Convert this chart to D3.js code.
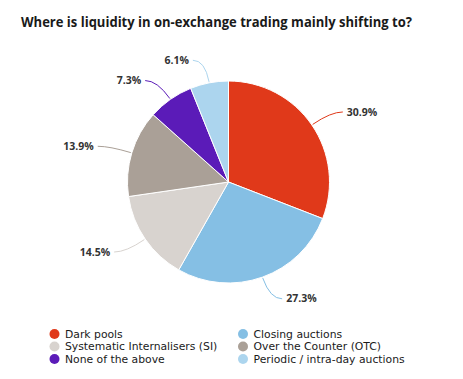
<!DOCTYPE html>
<html><head><meta charset="utf-8">
<script src="https://cdn.jsdelivr.net/npm/d3@7"></script>
<style>body{margin:0;background:#fff}</style>
</head><body>
<script>
const categories = ["Dark pools","Closing auctions","Systematic Internalisers (SI)","Over the Counter (OTC)","None of the above","Periodic / intra-day auctions"];
const values = [30.9, 27.3, 14.5, 13.9, 7.3, 6.1];
const colors = ["#e0391a","#85bfe4","#d8d3cf","#aaa097","#5b1bb8","#acd5ee"];
const title = "Where is liquidity in on-exchange trading mainly shifting to?";

const W = 463, H = 379;
const svg = d3.select("body").append("svg").attr("width", W).attr("height", H)
  .style("font-family","'Open Sans', sans-serif");

svg.append("text").attr("x", 21).attr("y", 27).text(title)
  .attr("font-size", 14.5).attr("font-weight", 700).attr("fill", "#1a1a1a")
  .attr("textLength", 391).attr("lengthAdjust","spacingAndGlyphs");

const cx = 228.5, cy = 182, r = 101;
const g = svg.append("g").attr("transform", `translate(${cx},${cy})`);
const data = categories.map((c,i)=>({name:c, value:values[i], color:colors[i]}));
const pie = d3.pie().value(d=>d.value).sort(null);
const arcs = pie(data);
const arc = d3.arc().innerRadius(0).outerRadius(r);

g.selectAll("path.slice").data(arcs).join("path").attr("class","slice")
  .attr("d", arc).attr("fill", d=>d.data.color).attr("stroke","#fff").attr("stroke-width",1);

arcs.forEach(d=>{
  const a = (d.startAngle + d.endAngle)/2;
  const s = Math.sin(a), c = -Math.cos(a);
  const p0 = [ (r+1)*s, (r+1)*c ];
  const pc = [ 124*s, 124*c ];
  const right = s >= 0;
  const p2 = [ pc[0] + (right?12:-12), pc[1] ];
  g.append("path").attr("d", `M${p0[0]},${p0[1]} Q${pc[0]},${pc[1]} ${p2[0]},${p2[1]}`)
    .attr("fill","none").attr("stroke", d.data.color).attr("stroke-width",1);
  g.append("text").attr("x", p2[0] + (right?4:-4)).attr("y", p2[1]).attr("dy","0.35em")
    .attr("text-anchor", right?"start":"end").attr("font-size", 10.5).attr("font-weight",700)
    .attr("fill","#333").text(d3.format(".1f")(d.data.value) + "%");
});

const leg = svg.append("g").style("font-family","'DejaVu Sans', Verdana, sans-serif");
const order = [0,2,4,1,3,5];
order.forEach((idx,k)=>{
  const col = Math.floor(k/3), row = k%3;
  const x = col===0 ? 54.5 : 243, y = 334 + row*12.5;
  leg.append("circle").attr("cx", x).attr("cy", y).attr("r", 5).attr("fill", colors[idx]);
  leg.append("text").attr("x", x+10.5).attr("y", y).attr("dy","0.35em").attr("font-size", 10.8)
    .attr("fill","#1a1a1a").text(categories[idx]);
});
</script>
</body></html>
